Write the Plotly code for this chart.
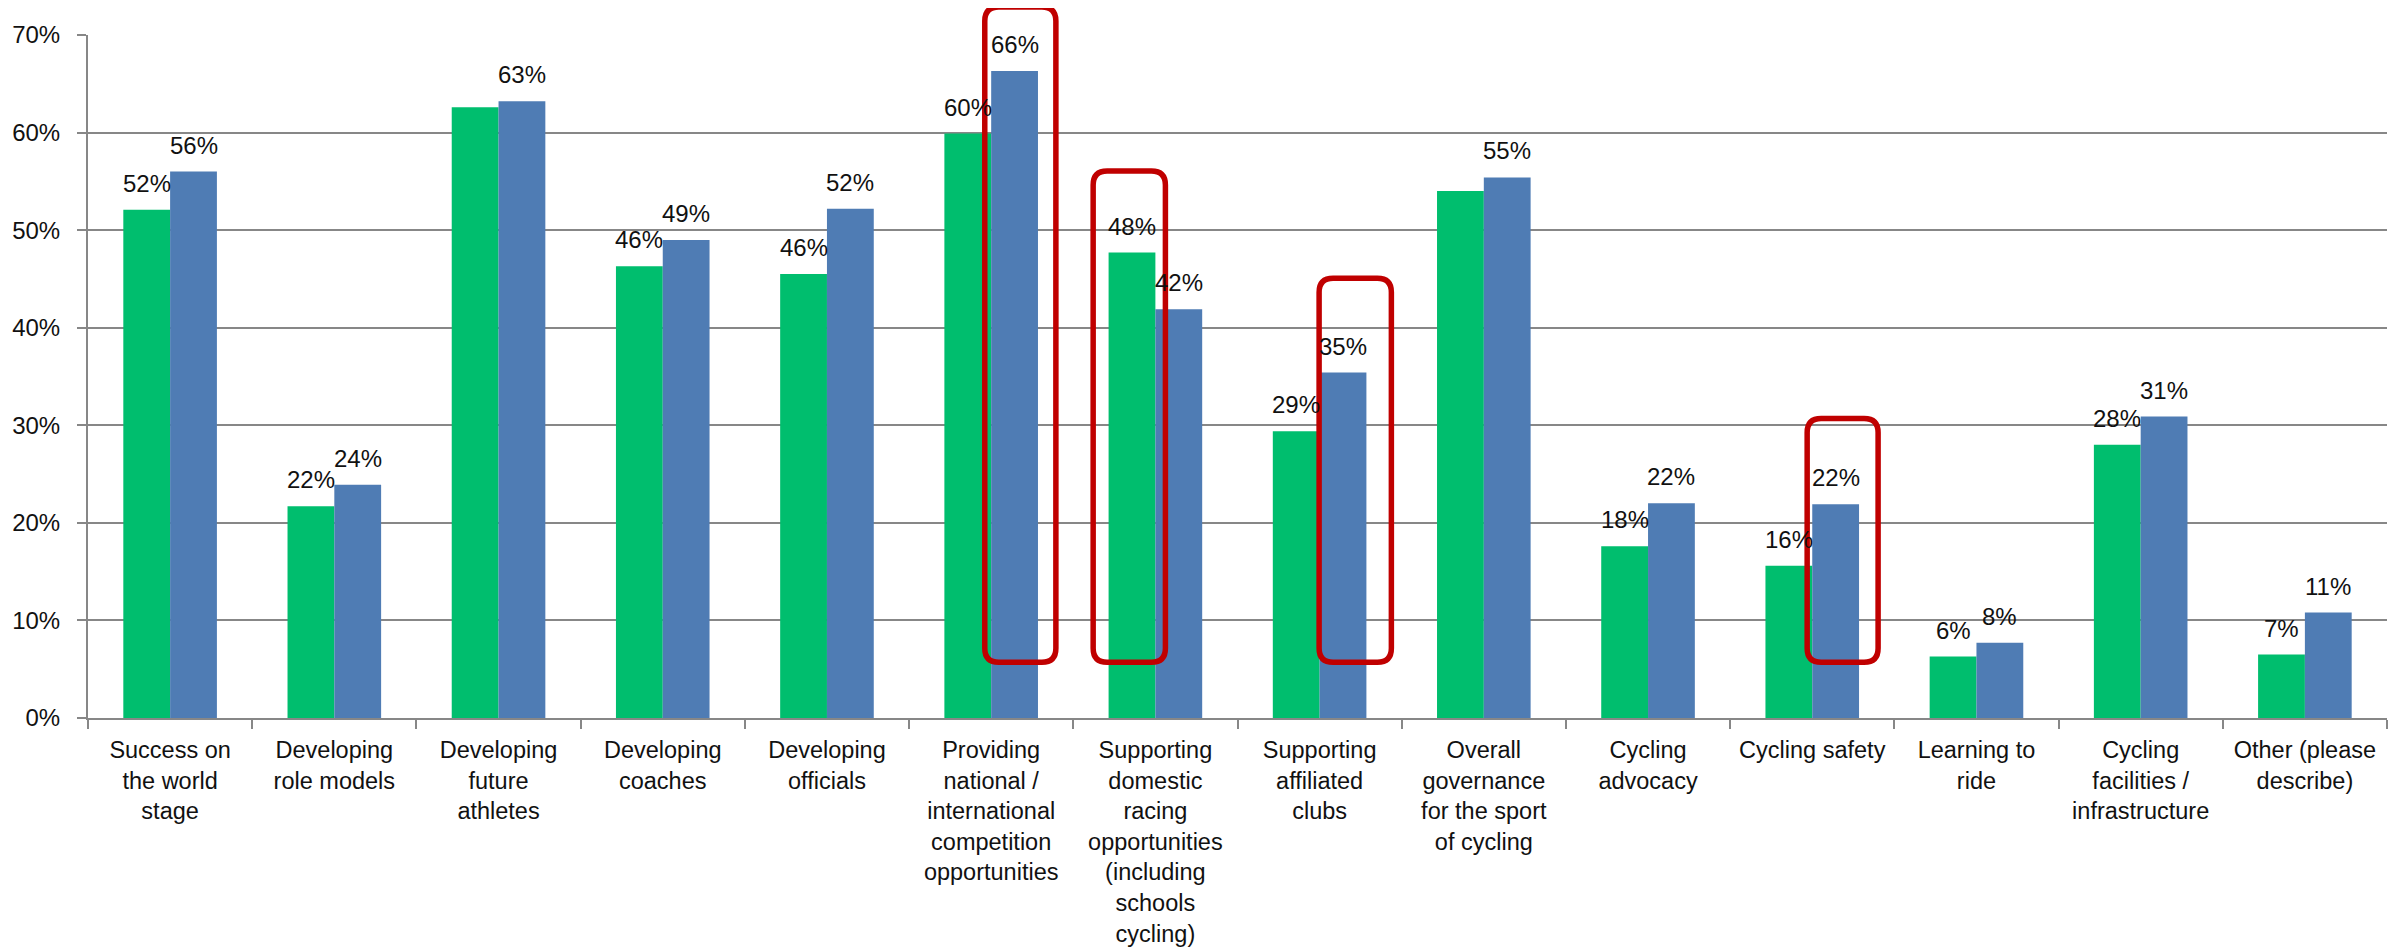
import plotly.graph_objects as go

categories = [
    "Success on<br>the world<br>stage",
    "Developing<br>role models",
    "Developing<br>future<br>athletes",
    "Developing<br>coaches",
    "Developing<br>officials",
    "Providing<br>national /<br>international<br>competition<br>opportunities",
    "Supporting<br>domestic<br>racing<br>opportunities<br>(including<br>schools<br>cycling)",
    "Supporting<br>affiliated<br>clubs",
    "Overall<br>governance<br>for the sport<br>of cycling",
    "Cycling<br>advocacy",
    "Cycling safety",
    "Learning to<br>ride",
    "Cycling<br>facilities /<br>infrastructure",
    "Other (please<br>describe)",
]
green_values = [52.1, 21.7, 62.6, 46.3, 45.5, 59.9, 47.7, 29.4, 54.0, 17.6, 15.6, 6.3, 28.0, 6.5]
blue_values = [56.0, 23.9, 63.2, 49.0, 52.2, 66.3, 41.9, 35.4, 55.4, 22.0, 21.9, 7.7, 30.9, 10.8]
green_labels = ["52%", "22%", "", "46%", "46%", "60%", "48%", "29%", "", "18%", "16%", "6%", "28%", "7%"]
blue_labels = ["56%", "24%", "63%", "49%", "52%", "66%", "42%", "35%", "55%", "22%", "22%", "8%", "31%", "11%"]
y_ticks = [0, 10, 20, 30, 40, 50, 60, 70]
y_tick_labels = ["0%", "10%", "20%", "30%", "40%", "50%", "60%", "70%"]

# highlighted boxes: (category index, left offset, right offset, top paper y)
highlights = [
    (5, -0.039, 0.394, 1.041),
    (6, -0.379, 0.061, 0.801),
    (7, -0.003, 0.437, 0.644),
    (10, -0.031, 0.401, 0.4385),
]

GREEN = "#00BE6E"
BLUE = "#4F7CB4"
GRID = "#878787"
FONT = "Liberation Sans, Arial, sans-serif"

fig = go.Figure()
fig.add_trace(go.Bar(x=categories, y=green_values, marker=dict(color=GREEN, line=dict(width=0)), name="A"))
fig.add_trace(go.Bar(x=categories, y=blue_values, marker=dict(color=BLUE, line=dict(width=0)), name="B"))

# page body has an 8px default margin, so the figure is 8px smaller than the window
W, H = 2399, 939
ml, mr, mt, mb = 80, 20, 27, 229
plot_w = W - ml - mr
plot_h = H - mt - mb
cat_px = plot_w / len(categories)
bargap = 0.43
bar_px = (1 - bargap) / 2 * cat_px

annotations = []
for i, c in enumerate(categories):
    for vals, labels, sign in ((green_values, green_labels, -1), (blue_values, blue_labels, 1)):
        if not labels[i]:
            continue
        annotations.append(dict(
            x=c, y=vals[i], xref="x", yref="y", text=labels[i],
            showarrow=False, xanchor="center", yanchor="bottom",
            xshift=sign * bar_px / 2, yshift=11,
            font=dict(family=FONT, size=24, color="#111111"),
        ))

shapes = []
r = 14
rx = r / cat_px
ry = r / plot_h
y_bottom = 0.0817
for idx, lo, hi, top in highlights:
    x0, x1 = idx + lo, idx + hi
    y0, y1 = y_bottom, top
    path = (
        f"M {x0+rx},{y0} L {x1-rx},{y0} Q {x1},{y0} {x1},{y0+ry} "
        f"L {x1},{y1-ry} Q {x1},{y1} {x1-rx},{y1} "
        f"L {x0+rx},{y1} Q {x0},{y1} {x0},{y1-ry} "
        f"L {x0},{y0+ry} Q {x0},{y0} {x0+rx},{y0} Z"
    )
    shapes.append(dict(type="path", xref="x", yref="paper", path=path,
                       line=dict(color="#C00000", width=5.5), layer="above"))

fig.update_layout(
    width=W, height=H,
    margin=dict(l=ml, r=mr, t=mt, b=mb, autoexpand=False),
    paper_bgcolor="white", plot_bgcolor="white",
    barmode="group", bargap=bargap, bargroupgap=0,
    showlegend=False,
    font=dict(family=FONT, size=24, color="#111111"),
    annotations=annotations,
    shapes=shapes,
)
fig.update_xaxes(
    type="category", tickson="boundaries", ticks="outside", ticklen=9,
    tickcolor=GRID, tickwidth=2, showline=True, linecolor=GRID, linewidth=2,
    showgrid=False, tickfont=dict(family=FONT, size=23.5, color="#111111"),
    tickangle=0, automargin=False, ticklabelstandoff=10,
)
fig.update_yaxes(
    range=[0, 70], tickvals=y_ticks, ticktext=y_tick_labels,
    ticks="outside", ticklen=9, tickcolor=GRID, tickwidth=2,
    showline=True, linecolor=GRID, linewidth=2,
    showgrid=True, gridcolor=GRID, gridwidth=2, zeroline=False,
    tickfont=dict(family=FONT, size=24, color="#111111"),
    ticklabelstandoff=12, automargin=False,
)

fig.write_html("out.html")
